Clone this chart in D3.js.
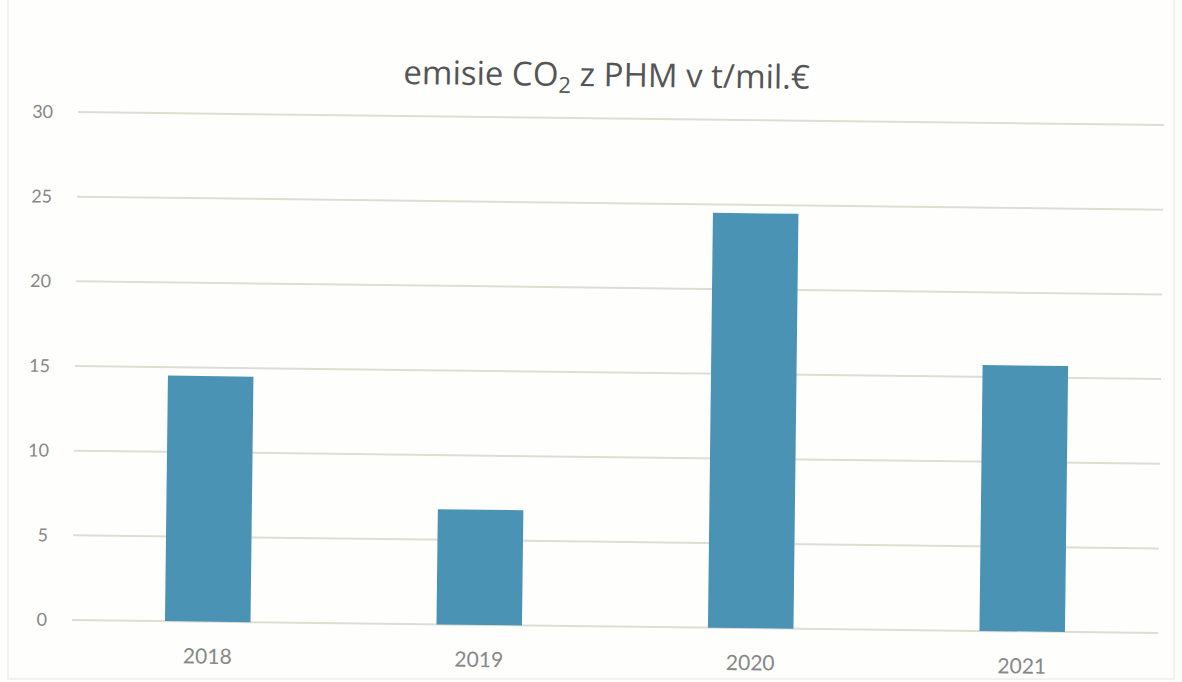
<!DOCTYPE html>
<html>
<head>
<meta charset="utf-8">
<script src="https://cdn.jsdelivr.net/npm/d3@7"></script>
<style>
  html, body { margin: 0; padding: 0; background: #fdfdfb; }
  svg { display: block; }
  .tick-label { font-family: Lato, "Open Sans", sans-serif; fill: #878787; }
</style>
</head>
<body>
<div id="chart"></div>
<script>
const years = ['2018', '2019', '2020', '2021'];
const emissions = [14.5, 6.8, 24.5, 15.7];
const yTicks = [0, 5, 10, 15, 20, 25, 30];

const width = 1182;
const height = 682;
// the source is a slightly tilted scan
const tilt = 0.69;

const plot = { left: 72, right: 1158, top: 112, bottom: 620 };

const svg = d3.select('#chart')
  .append('svg')
  .attr('width', width)
  .attr('height', height);

svg.append('rect')
  .attr('x', 8)
  .attr('y', -2)
  .attr('width', 1166)
  .attr('height', 681)
  .attr('fill', '#fefefd')
  .attr('stroke', '#e6e6e2')
  .attr('stroke-width', 1);

const g = svg.append('g')
  .attr('transform', `rotate(${tilt},${plot.left},${plot.bottom})`);

const x = d3.scaleBand()
  .domain(years)
  .range([plot.left, plot.right])
  .paddingInner(0.685)
  .paddingOuter(0.3425);

const y = d3.scaleLinear()
  .domain([0, 30])
  .range([plot.bottom, plot.top]);

// gridlines
g.append('g')
  .selectAll('line')
  .data(yTicks)
  .enter()
  .append('line')
  .attr('x1', plot.left)
  .attr('x2', plot.right)
  .attr('y1', d => y(d))
  .attr('y2', d => y(d))
  .attr('stroke', '#deddd4')
  .attr('stroke-width', 2);

// y tick labels
g.append('g')
  .selectAll('text')
  .data(yTicks)
  .enter()
  .append('text')
  .attr('class', 'tick-label')
  .attr('x', plot.left - 25)
  .attr('y', d => y(d))
  .attr('dy', '0.35em')
  .attr('text-anchor', 'end')
  .style('font-size', '18px')
  .text(d => d);

// bars
g.append('g')
  .selectAll('rect')
  .data(years)
  .enter()
  .append('rect')
  .attr('x', d => x(d))
  .attr('width', x.bandwidth())
  .attr('y', (d, i) => y(emissions[i]))
  .attr('height', (d, i) => y(0) - y(emissions[i]))
  .attr('fill', '#4a93b4');

// x labels
g.append('g')
  .selectAll('text')
  .data(years)
  .enter()
  .append('text')
  .attr('class', 'tick-label')
  .attr('x', d => x(d) + x.bandwidth() / 2)
  .attr('y', plot.bottom + 42)
  .attr('text-anchor', 'middle')
  .style('font-size', '21px')
  .text(d => d);

// title
const title = g.append('text')
  .attr('x', 600)
  .attr('y', 80)
  .attr('text-anchor', 'middle')
  .style('font-family', '"Open Sans", Lato, sans-serif')
  .style('font-size', '33px')
  .attr('fill', '#555555');

title.append('tspan').text('emisie CO');
title.append('tspan')
  .attr('dy', 7)
  .style('font-size', '22px')
  .text('2');
title.append('tspan')
  .attr('dy', -7)
  .text(' z PHM v t/mil.€');
</script>
</body>
</html>
